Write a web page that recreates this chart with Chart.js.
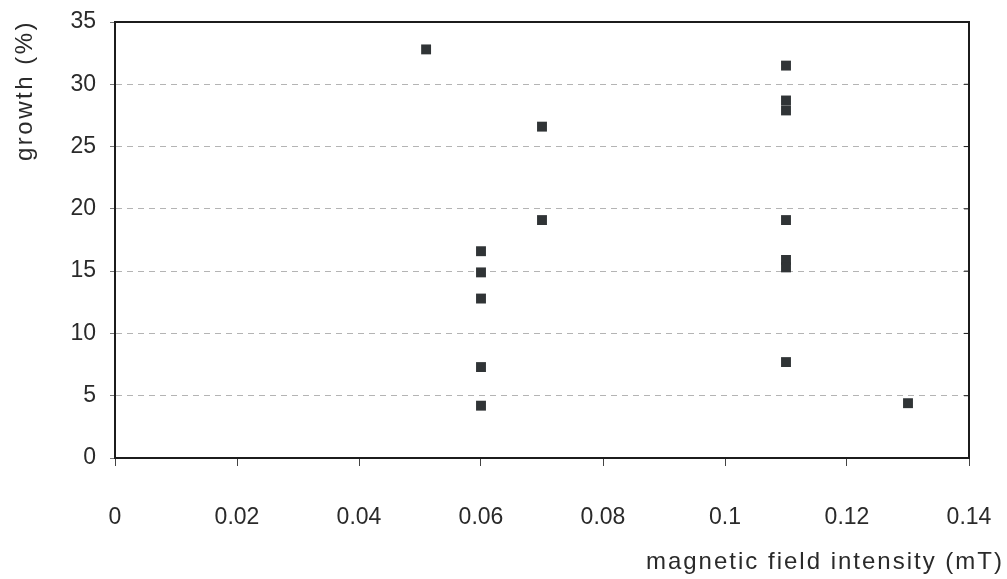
<!DOCTYPE html>
<html>
<head>
<meta charset="utf-8">
<script src="https://cdn.jsdelivr.net/npm/chart.js@4/dist/chart.umd.min.js"></script>
<style>
  html, body { margin: 0; padding: 0; background: #fff; }
  #wrap { width: 1007px; height: 579px; position: relative; }
</style>
</head>
<body>
<div id="wrap"><canvas id="growthChart"></canvas></div>
<script>
// --- data ---
const fieldIntensity = [0.051, 0.06, 0.06, 0.06, 0.06, 0.06, 0.07, 0.07, 0.11, 0.11, 0.11, 0.11, 0.11, 0.11, 0.11, 0.13];
const growthPct      = [32.8, 16.6, 14.9, 12.8, 7.3, 4.2, 26.6, 19.1, 31.5, 28.7, 27.9, 19.1, 15.9, 15.3, 7.7, 4.4];

const xTicks = [0, 0.02, 0.04, 0.06, 0.08, 0.1, 0.12, 0.14];
const yTicks = [0, 5, 10, 15, 20, 25, 30, 35];

const xTitle = 'magnetic field intensity (mT)';
const yTitle = 'growth (%)';

const FONT = '"Liberation Sans", Arial, sans-serif';

// frame round the plot + axis titles placed like the scan
const framePlugin = {
    id: 'frame',
    afterDraw(chart) {
        const { ctx, chartArea: a } = chart;
        ctx.save();
        ctx.strokeStyle = '#1c1c1c';
        ctx.lineWidth = 2;
        ctx.beginPath();
        ctx.moveTo(a.left, a.top);
        ctx.lineTo(a.right, a.top);
        ctx.lineTo(a.right, a.bottom);
        ctx.stroke();

        // small inner ticks on the right edge
        ctx.lineWidth = 1;
        const y = chart.scales.y;
        yTicks.forEach(v => {
            const py = y.getPixelForValue(v);
            ctx.beginPath();
            ctx.moveTo(a.right - 5, py);
            ctx.lineTo(a.right, py);
            ctx.stroke();
        });

        // the scanned titles come out a little wide
        ctx.fillStyle = '#2a2a2a';
        ctx.font = '24px ' + FONT;
        ctx.textBaseline = 'middle';
        ctx.textAlign = 'right';
        ctx.letterSpacing = '2px';
        ctx.fillText(xTitle, 1004, 562);

        ctx.letterSpacing = '2.5px';
        ctx.translate(25, a.top - 2);
        ctx.rotate(-Math.PI / 2);
        ctx.textAlign = 'right';
        ctx.fillText(yTitle, 0, 0);
        ctx.restore();
    }
};

const ctx = document.getElementById('growthChart').getContext('2d');
new Chart(ctx, {
    type: 'scatter',
    data: {
        datasets: [{
            label: 'growth',
            data: fieldIntensity.map((x, i) => ({ x: x, y: growthPct[i] })),
            pointStyle: 'rect',
            pointRadius: 7,
            pointHoverRadius: 7,
            backgroundColor: '#303436',
            borderColor: '#303436',
            borderWidth: 0
        }]
    },
    options: {
        responsive: true,
        maintainAspectRatio: false,
        animation: false,
        layout: { padding: { top: 22, right: 38, left: 0, bottom: 0 } },
        plugins: { legend: { display: false }, tooltip: { enabled: false } },
        scales: {
            x: {
                type: 'linear',
                min: 0, max: 0.14,
                afterBuildTicks: s => { s.ticks = xTicks.map(v => ({ value: v })); },
                afterFit: s => { s.height = 121; s.paddingLeft = 0; s.paddingRight = 0; },
                border: { color: '#1c1c1c', width: 2 },
                grid: { drawOnChartArea: false, tickLength: 8, color: '#444' },
                ticks: {
                    padding: 38,
                    color: '#2a2a2a',
                    font: { family: FONT, size: 23 },
                    maxRotation: 0,
                    callback: v => String(v)
                }
            },
            y: {
                min: 0, max: 35,
                afterBuildTicks: s => { s.ticks = yTicks.map(v => ({ value: v })); },
                afterFit: s => { s.width = 115; s.paddingTop = 0; s.paddingBottom = 0; },
                border: { color: '#1c1c1c', width: 2, dash: [6, 5] },
                grid: {
                    color: c => c.tick && (c.tick.value === 0 || c.tick.value === 35) ? 'rgba(0,0,0,0)' : '#b4b4b4',
                    tickColor: '#777',
                    tickLength: 5,
                    tickBorderDash: [],
                    lineWidth: 1
                },
                ticks: {
                    padding: 14,
                    color: '#2a2a2a',
                    font: { family: FONT, size: 23 }
                }
            }
        }
    },
    plugins: [framePlugin]
});
</script>
</body>
</html>
